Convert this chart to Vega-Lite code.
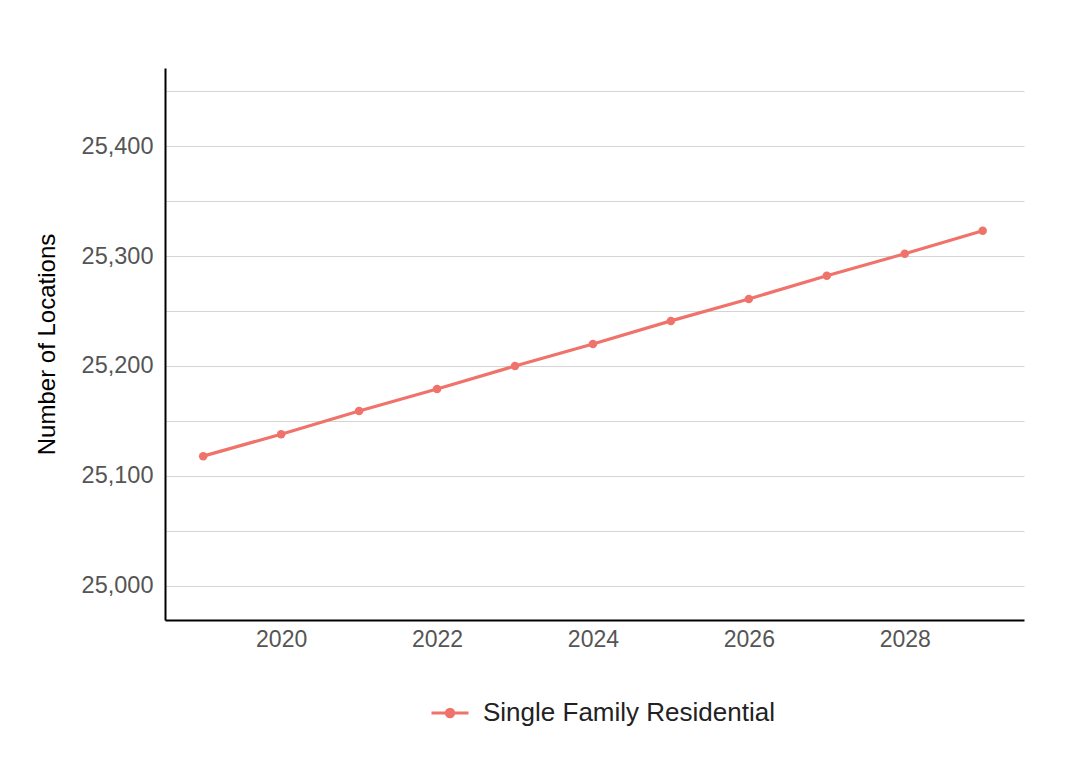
{
  "$schema": "https://vega.github.io/schema/vega-lite/v6.json",
  "width": 859,
  "height": 552,
  "autosize": {"type": "none"},
  "padding": {"left": 165, "top": 68, "right": 49, "bottom": 151},
  "background": "white",
  "config": {"view": {"stroke": null}, "font": "Liberation Sans"},
  "data": {
    "values": [
      {"year": 2019, "locations": 25118, "type": "Single Family Residential"},
      {"year": 2020, "locations": 25138, "type": "Single Family Residential"},
      {"year": 2021, "locations": 25159, "type": "Single Family Residential"},
      {"year": 2022, "locations": 25179, "type": "Single Family Residential"},
      {"year": 2023, "locations": 25200, "type": "Single Family Residential"},
      {"year": 2024, "locations": 25220, "type": "Single Family Residential"},
      {"year": 2025, "locations": 25241, "type": "Single Family Residential"},
      {"year": 2026, "locations": 25261, "type": "Single Family Residential"},
      {"year": 2027, "locations": 25282, "type": "Single Family Residential"},
      {"year": 2028, "locations": 25302, "type": "Single Family Residential"},
      {"year": 2029, "locations": 25323, "type": "Single Family Residential"}
    ]
  },
  "encoding": {
    "x": {
      "field": "year",
      "type": "quantitative",
      "scale": {"domain": [2018.51, 2029.53], "nice": false, "zero": false},
      "axis": {
        "values": [2020, 2022, 2024, 2026, 2028],
        "format": "d",
        "grid": false,
        "ticks": false,
        "domainColor": "black",
        "domainWidth": 2,
        "labelFontSize": 23,
        "labelColor": "#555555",
        "labelPadding": 8,
        "title": null
      }
    },
    "y": {
      "field": "locations",
      "type": "quantitative",
      "scale": {"domain": [24969, 25471], "nice": false, "zero": false},
      "axis": {
        "values": [25000, 25050, 25100, 25150, 25200, 25250, 25300, 25350, 25400, 25450],
        "labelExpr": "datum.value % 100 === 0 ? format(datum.value, ',') : ''",
        "grid": true,
        "gridColor": "#d4d4d4",
        "gridWidth": 1,
        "ticks": false,
        "domainColor": "black",
        "domainWidth": 2,
        "labelFontSize": 23.5,
        "labelColor": "#555555",
        "labelPadding": 12,
        "title": "Number of Locations",
        "titleFontSize": 24,
        "titleFontWeight": "normal",
        "titleColor": "black",
        "titlePadding": 22
      }
    },
    "color": {
      "field": "type",
      "type": "nominal",
      "scale": {"range": ["#F0736B"]},
      "legend": {
        "orient": "none",
        "legendX": 265,
        "legendY": 625,
        "title": null,
        "labelFontSize": 26,
        "labelLimit": 0,
        "labelColor": "#222222",
        "labelOffset": 13,
        "symbolType": "M-1,0H1M0.2,0A0.2,0.2 0 1,1 -0.2,0A0.2,0.2 0 1,1 0.2,0",
        "symbolSize": 1369,
        "symbolStrokeWidth": 3,
        "symbolStrokeColor": "#F0736B",
        "symbolFillColor": "#F0736B"
      }
    }
  },
  "layer": [
    {"mark": {"type": "line", "strokeWidth": 3.2}},
    {"mark": {"type": "point", "filled": true, "size": 72, "opacity": 1}}
  ]
}
